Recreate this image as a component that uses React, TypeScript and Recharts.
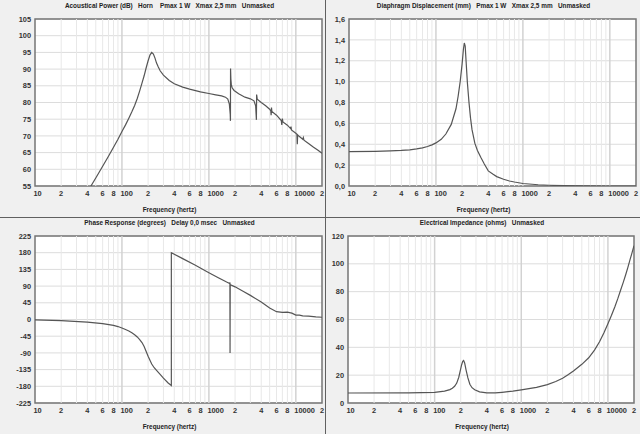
import { LineChart, Line, XAxis, YAxis, CartesianGrid, ReferenceLine, ReferenceArea } from "recharts"

const FONT = "'Liberation Sans', Arial, sans-serif"

// frequency axis (log, 10 Hz - 20 kHz)
const freqTicks = [10, 20, 40, 60, 80, 100, 200, 400, 600, 800, 1000, 2000, 4000, 6000, 8000, 10000, 20000]
const minorGrid = [20, 30, 40, 50, 60, 70, 80, 90, 200, 300, 400, 500, 600, 700, 800, 900, 2000, 3000, 4000, 5000, 6000, 7000, 8000, 9000]
const decadeGrid = [100, 1000, 10000]

// Acoustical power (dB)
const powerFreq = [40, 44, 50, 60, 70, 80, 90, 100, 110, 120, 130, 140, 150, 160, 170, 180, 190, 200, 210, 220, 230, 240, 250, 262, 275, 300, 350, 400, 500, 600, 800, 1000, 1200, 1400, 1550, 1650, 1720, 1760, 1770, 1775, 1790, 1810, 1850, 1950, 2200, 2600, 3000, 3300, 3450, 3520, 3540, 3600, 4000, 4500, 5000, 5150, 5200, 5250, 5300, 6000, 6800, 6900, 7000, 7100, 8000, 8700, 8800, 8900, 10000, 10300, 10400, 10500, 11000, 12000, 12200, 12400, 14000, 16000, 18000, 20000]
const powerDb = [53, 55, 57.4, 60.9, 63.9, 66.6, 69, 71.3, 73.3, 75.3, 77.2, 79.1, 81.2, 83.5, 85.8, 88, 90.4, 92.5, 94.2, 95, 94.5, 93.3, 91.8, 90.6, 89.5, 88.2, 86.6, 85.6, 84.6, 84, 83.2, 82.7, 82.3, 82, 81.6, 81, 79.5, 76.5, 74.5, 90.2, 87, 85.5, 84.4, 83.6, 82.6, 81.6, 81.1, 80.5, 79, 74.8, 82.4, 81, 80, 79, 78, 77.5, 76.2, 78.5, 77.3, 76.2, 74.6, 73.3, 75.2, 74.2, 73.2, 72.2, 72.8, 71.8, 70.8, 70.5, 67.5, 70.3, 69.8, 69, 69.5, 68.7, 67.7, 66.6, 65.7, 64.8]

// Diaphragm displacement (mm)
const dispFreq = [10, 20, 30, 40, 50, 60, 70, 80, 90, 100, 115, 130, 150, 170, 180, 190, 200, 207, 212, 217, 222, 230, 240, 250, 260, 280, 300, 330, 360, 400, 450, 500, 600, 700, 800, 1000, 1500, 2000, 3000, 5000, 10000, 20000]
const dispMm = [0.33, 0.332, 0.336, 0.341, 0.347, 0.355, 0.365, 0.378, 0.394, 0.413, 0.447, 0.498, 0.59, 0.74, 0.86, 1.0, 1.17, 1.31, 1.37, 1.34, 1.2, 0.99, 0.8, 0.65, 0.54, 0.41, 0.34, 0.27, 0.21, 0.145, 0.115, 0.09, 0.065, 0.048, 0.038, 0.024, 0.012, 0.007, 0.003, 0.001, 0, 0]

// Phase response (degrees)
const phaseFreq = [10, 20, 40, 60, 80, 90, 100, 110, 120, 130, 140, 150, 160, 170, 180, 190, 200, 210, 220, 235, 250, 275, 300, 340, 370, 370, 500, 700, 1000, 1300, 1600, 1740, 1745, 1748, 1750, 1752, 1755, 1760, 2000, 2500, 3000, 4000, 5000, 6000, 7000, 8000, 9000, 10000, 11000, 12000, 14000, 17000, 20000]
const phaseDeg = [-1, -3, -7, -11, -16, -19, -23, -27, -31, -36, -41, -47, -54, -62, -73, -86, -99, -110, -120, -130, -137, -148, -158, -171, -178, 180, 164, 146, 126, 112, 101, 97, 100, 0, 100, -90, 2, 94, 88, 75.5, 65, 47, 31, 21, 19, 20, 17, 12, 12, 10, 9, 7, 6]

// Electrical impedance (ohms)
const impFreq = [10, 50, 100, 130, 150, 160, 170, 180, 190, 198, 205, 211, 216, 222, 230, 242, 255, 270, 290, 330, 400, 500, 600, 800, 1000, 1500, 2000, 2500, 3000, 3500, 4000, 5000, 6000, 7000, 8000, 9000, 10000, 11000, 12000, 13000, 14000, 15000, 16000, 17000, 18000, 19000, 20000]
const impOhm = [7.2, 7.3, 7.6, 8.5, 9.6, 10.6, 12, 14.3, 18.5, 23.5, 27.5, 30, 30.6, 28.8, 24, 18, 13.5, 11, 9.5, 8, 7.3, 7.3, 7.7, 8.5, 9.4, 11.2, 13.2, 15.4, 17.8, 20.4, 23, 27.8, 32.5, 38, 44, 50.5, 57, 63, 69, 75, 81, 86.5, 92, 97.5, 103, 108, 113]

const powerTicks = [55, 60, 65, 70, 75, 80, 85, 90, 95, 100, 105]
const dispTicks = [0, 0.2, 0.4, 0.6, 0.8, 1.0, 1.2, 1.4, 1.6]
const phaseTicks = [-225, -180, -135, -90, -45, 0, 45, 90, 135, 180, 225]
const impTicks = [0, 20, 40, 60, 80, 100, 120]

const toData = (fs: number[], vs: number[]) => fs.map((f, i) => ({ f, v: vs[i] }))

const tickStyle = { fontSize: 7.4, fill: "#333", fontWeight: 700, fontFamily: FONT }

// decade labels start at the tick, the in-between digits are centred
function FreqTick(props: any) {
  const { x, y, payload } = props
  const v = payload.value as number
  const p = Math.pow(10, Math.floor(Math.log10(v) + 1e-9))
  const m = Math.round(v / p)
  const decade = m === 1
  return (
    <text
      x={x}
      y={y}
      dx={decade ? -1.5 : 0}
      dy="0.71em"
      textAnchor={decade ? "start" : "middle"}
      {...tickStyle}
    >
      {decade ? String(v) : String(m)}
    </text>
  )
}

type PanelProps = {
  left: number
  top: number
  width: number
  yWidth: number
  right: number
  title: string
  data: { f: number; v: number }[]
  domain: [number, number]
  ticks: number[]
  fmt?: (v: number) => string
}

function Panel({ left, top, width, yWidth, right, title, data, domain, ticks, fmt }: PanelProps) {
  const height = 217
  const center = (yWidth + width - right) / 2 - 9
  return (
    <div style={{ position: "absolute", left, top, width, height }}>
      <div
        style={{
          position: "absolute",
          left: center - 200,
          width: 400,
          top: 1,
          textAlign: "center",
          fontFamily: FONT,
          fontWeight: 700,
          fontSize: 6.4,
          color: "#222",
          whiteSpace: "pre",
          lineHeight: "9px",
        }}
      >
        {title}
      </div>
      <LineChart width={width} height={height} data={data} margin={{ top: 19, right, left: 0, bottom: 0 }}>
        <CartesianGrid vertical={false} stroke="#dcdcdc" fill="#ffffff" />
        {minorGrid.map((g) => (
          <ReferenceLine key={"m" + g} x={g} stroke="#e8e8e8" />
        ))}
        {decadeGrid.map((g) => (
          <ReferenceLine key={"d" + g} x={g} stroke="#d2d2d2" strokeWidth={1.5} />
        ))}
        <XAxis
          dataKey="f"
          type="number"
          scale="log"
          domain={[10, 20000]}
          allowDataOverflow
          ticks={freqTicks}
          interval={0}
          axisLine={false}
          tickLine={false}
          tickSize={3}
          tickMargin={2}
          height={31}
          tick={<FreqTick />}
          label={{
            value: "Frequency (hertz)",
            position: "insideBottom",
            offset: 5,
            dx: -9,
            style: { fontSize: 6.4, fill: "#222", fontWeight: 700, fontFamily: FONT },
          }}
        />
        <YAxis
          type="number"
          domain={domain}
          allowDataOverflow
          ticks={ticks}
          interval={0}
          tickFormatter={fmt}
          axisLine={false}
          tickLine={false}
          tickSize={2}
          tickMargin={2}
          width={yWidth}
          tick={tickStyle}
        />
        <Line type="linear" dataKey="v" dot={false} stroke="#555" strokeWidth={1.2} isAnimationActive={false} />
        <ReferenceArea x1={10} x2={20000} y1={domain[0]} y2={domain[1]} fill="none" stroke="#767676" strokeWidth={1.5} />
      </LineChart>
    </div>
  )
}

export default function App() {
  return (
    <div style={{ position: "fixed", left: 0, top: 0, width: 640, height: 434, background: "#f0f0f0", overflow: "hidden" }}>
      <Panel
        left={0}
        top={0}
        width={325}
        yWidth={35}
        right={3}
        title={"Acoustical Power (dB)   Horn    Pmax 1 W   Xmax 2,5 mm   Unmasked"}
        data={toData(powerFreq, powerDb)}
        domain={[55, 105]}
        ticks={powerTicks}
      />
      <Panel
        left={325}
        top={0}
        width={315}
        yWidth={24}
        right={4}
        title={"Diaphragm Displacement (mm)   Pmax 1 W   Xmax 2,5 mm   Unmasked"}
        data={toData(dispFreq, dispMm)}
        domain={[0, 1.6]}
        ticks={dispTicks}
        fmt={(v) => v.toFixed(1).replace(".", ",")}
      />
      <Panel
        left={0}
        top={217}
        width={325}
        yWidth={35}
        right={3}
        title={"Phase Response (degrees)   Delay 0,0 msec   Unmasked"}
        data={toData(phaseFreq, phaseDeg)}
        domain={[-225, 225]}
        ticks={phaseTicks}
      />
      <Panel
        left={325}
        top={217}
        width={315}
        yWidth={23}
        right={6}
        title={"Electrical Impedance (ohms)   Unmasked"}
        data={toData(impFreq, impOhm)}
        domain={[0, 120]}
        ticks={impTicks}
      />
      <div style={{ position: "absolute", left: 325, top: 0, width: 1, height: 434, background: "#606060" }} />
      <div style={{ position: "absolute", left: 0, top: 217, width: 640, height: 1, background: "#606060" }} />
    </div>
  )
}
